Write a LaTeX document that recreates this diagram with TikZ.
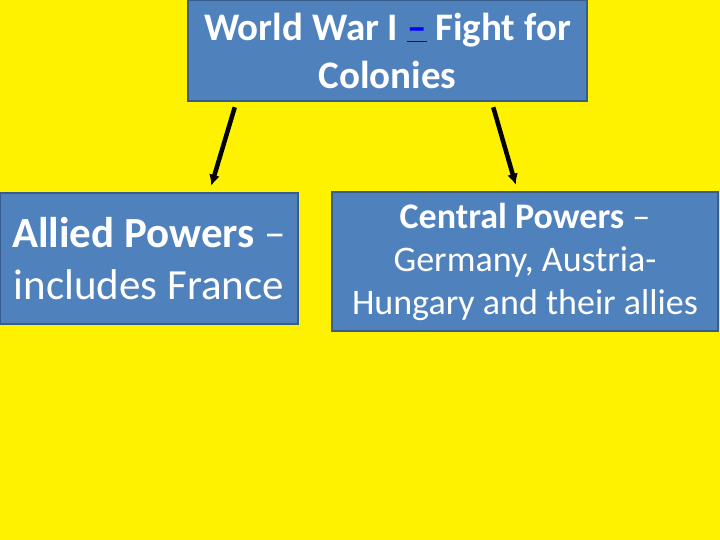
\documentclass[tikz,border=0pt]{standalone}
\usepackage{fontspec}
\setmainfont{Carlito}
\usetikzlibrary{arrows.meta,calc}
\definecolor{boxblue}{HTML}{4F81BD}
\definecolor{boxedge}{HTML}{385D8A}

\begin{document}
\begin{tikzpicture}[
    x=1pt, y=1pt,
    war node/.style={draw=boxedge,line width=2.5pt,fill=boxblue,text=white,
      align=center,inner sep=0pt},
    war arrow/.style={-{Latex[length=11pt,width=11pt]},line width=4.5pt}]

  \fill[yellow] (0,0) rectangle (720,-540);
  \useasboundingbox (0,0) rectangle (720,-540);

  \node[war node,minimum width=399pt,minimum height=101pt,
    font=\fontsize{39}{48}\selectfont\bfseries] (WWI) at (387.5,-50.5)
    {World War I {\color{blue}\underline{–}} Fight for\\Colonies};
  \node[war node,minimum width=298pt,minimum height=131pt,
    font=\fontsize{43}{52}\selectfont] (Allied) at (149,-258.5)
    {\textbf{Allied Powers} –\\includes France};
  \node[war node,minimum width=386pt,minimum height=139pt,
    font=\fontsize{36}{43}\selectfont] (Central) at (525,-261.5)
    {\textbf{Central Powers} –\\Germany, Austria-\\Hungary and their allies};

  \draw[war arrow] ($(WWI.south west)+(48,-5)$) -- ($(Allied.north east)+(-88,6)$);
  \draw[war arrow] ($(WWI.south east)+(-95,-5)$) -- ($(Central.north west)+(185,6)$);
\end{tikzpicture}
\end{document}
